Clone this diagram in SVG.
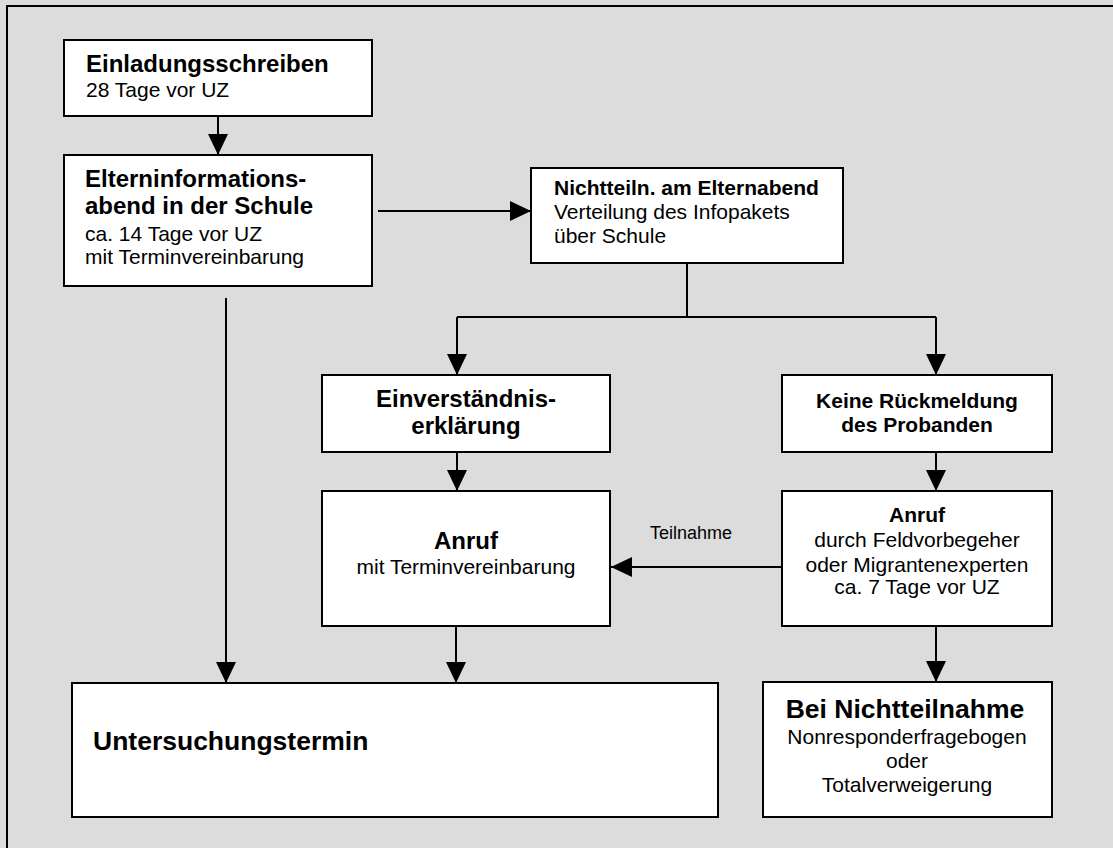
<svg xmlns="http://www.w3.org/2000/svg" width="1113" height="848" viewBox="0 0 1113 848">
<style>
.box{fill:#fff;stroke:#000;stroke-width:2}
.c{fill:none;stroke:#000;stroke-width:2}
text{font-family:"Liberation Sans",Arial,sans-serif;fill:#000}
.b{font-weight:bold;font-size:21px}
.bl{font-weight:bold;font-size:24px}
.bx{font-weight:bold;font-size:26.5px}
.n{font-size:21px}
.s{font-size:18px}
.m{text-anchor:middle}
</style>
<defs>
<marker id="ah" markerUnits="userSpaceOnUse" markerWidth="21" markerHeight="20" refX="21" refY="10" orient="auto">
<path d="M0,0 L21,10 L0,20 z" fill="#000"/>
</marker>
</defs>
<rect x="0" y="0" width="1113" height="848" fill="#dcdcdc"/>
<rect x="7" y="6" width="1200" height="1000" fill="none" stroke="#000" stroke-width="2"/>
<g id="connectors">
<line class="c" x1="218" y1="116" x2="218" y2="155" marker-end="url(#ah)"/>
<line class="c" x1="378" y1="211" x2="531" y2="211" marker-end="url(#ah)"/>
<line class="c" x1="226" y1="298" x2="226" y2="683" marker-end="url(#ah)"/>
<line class="c" x1="687" y1="263" x2="687" y2="317"/>
<line class="c" x1="457" y1="317" x2="936" y2="317"/>
<line class="c" x1="457" y1="317" x2="457" y2="375" marker-end="url(#ah)"/>
<line class="c" x1="936" y1="317" x2="936" y2="375" marker-end="url(#ah)"/>
<line class="c" x1="457" y1="452" x2="457" y2="491" marker-end="url(#ah)"/>
<line class="c" x1="936" y1="452" x2="936" y2="491" marker-end="url(#ah)"/>
<line class="c" x1="782" y1="567" x2="611" y2="567" marker-end="url(#ah)"/>
<line class="c" x1="936" y1="626" x2="936" y2="682" marker-end="url(#ah)"/>
<line class="c" x1="456" y1="626" x2="456" y2="683" marker-end="url(#ah)"/>
<text class="s" x="650" y="539">Teilnahme</text>
</g>
<g id="einladung">
<rect class="box" x="64" y="40" width="308" height="76"/>
<text class="bl" x="86" y="72">Einladungsschreiben</text>
<text class="n" x="86" y="96.5">28 Tage vor UZ</text>
</g>
<g id="elternabend">
<rect class="box" x="64" y="155" width="308" height="131"/>
<text class="bl" x="85" y="187">Elterninformations-</text>
<text class="bl" x="85" y="213.5">abend in der Schule</text>
<text class="n" x="85" y="240.5">ca. 14 Tage vor UZ</text>
<text class="n" x="85" y="264">mit Terminvereinbarung</text>
</g>
<g id="nichtteiln">
<rect class="box" x="531" y="168" width="312" height="95"/>
<text class="b" x="554" y="195">Nichtteiln. am Elternabend</text>
<text class="n" x="554" y="219">Verteilung des Infopakets</text>
<text class="n" x="554" y="243">über Schule</text>
</g>
<g id="einverstaendnis">
<rect class="box" x="322" y="375" width="288" height="77"/>
<text class="bl m" x="466" y="407">Einverständnis-</text>
<text class="bl m" x="466" y="434">erklärung</text>
</g>
<g id="keine">
<rect class="box" x="782" y="375" width="270" height="77"/>
<text class="b m" x="917" y="408">Keine Rückmeldung</text>
<text class="b m" x="917" y="431.5">des Probanden</text>
</g>
<g id="anruf1">
<rect class="box" x="322" y="491" width="288" height="135"/>
<text class="bl m" x="466" y="549">Anruf</text>
<text class="n m" x="466" y="573.5">mit Terminvereinbarung</text>
</g>
<g id="anruf2">
<rect class="box" x="782" y="491" width="270" height="135"/>
<text class="b m" x="917" y="521.5">Anruf</text>
<text class="n m" x="917" y="546.5">durch Feldvorbegeher</text>
<text class="n m" x="917" y="571.5">oder Migrantenexperten</text>
<text class="n m" x="917" y="594">ca. 7 Tage vor UZ</text>
</g>
<g id="untersuchung">
<rect class="box" x="72" y="683" width="646" height="134"/>
<text class="bx" x="93" y="750">Untersuchungstermin</text>
</g>
<g id="nichtteilnahme">
<rect class="box" x="763" y="682" width="289" height="135"/>
<text class="bx m" x="905" y="718">Bei Nichtteilnahme</text>
<text class="n m" x="907" y="744">Nonresponderfragebogen</text>
<text class="n m" x="907" y="768">oder</text>
<text class="n m" x="907" y="792">Totalverweigerung</text>
</g>
</svg>
